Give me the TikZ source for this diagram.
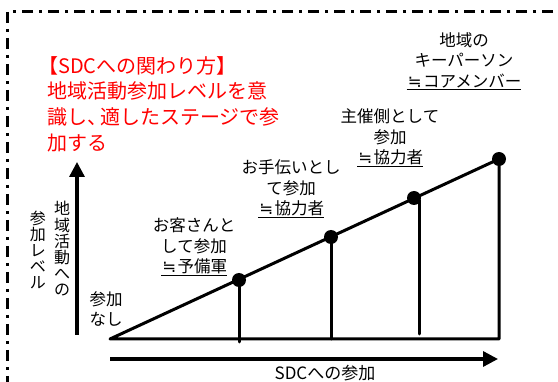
\documentclass[tikz,border=0pt]{standalone}
\usepackage{fontspec}
\setmainfont{Noto Sans CJK JP}
\newfontfamily\symfont{DejaVu Sans}
\newcommand{\approxeq}{\makebox[1em]{\symfont ≒}}
\usetikzlibrary{arrows.meta}
\begin{document}
\begin{tikzpicture}[x=1pt,y=-1pt,
  txt/.style={inner sep=0pt,align=center,font=\fontsize{16.5}{20.5}\selectfont},
  redtxt/.style={inner sep=0pt,align=left,text=red,font=\fontsize{20}{25.7}\selectfont},
  vtxt/.style={inner sep=0pt,align=center,font=\fontsize{16}{16.2}\selectfont},
  dot/.style={circle,fill=black,inner sep=0pt,minimum size=14pt},
  tri/.style={line width=3pt,line cap=round,line join=round},
  axis/.style={line width=3.3pt,-{Triangle[length=15pt,width=15pt]}},
  frame/.style={line width=3pt,dash pattern=on 11pt off 6pt on 3pt off 6pt}]
\useasboundingbox (0,0) rectangle (558,382);
\begin{scope}
  \clip (0,0) rectangle (558,382);
  \draw[frame] (7,12) rectangle (600,420);
\end{scope}

% red text
\node[redtxt,anchor=west] (red) at (47,104) {\hspace{-0.45em}【SDCへの関わり方】\\地域活動参加レベルを意\\識し、\hspace{-7pt}適したステージで参\\加する};

% graph
\coordinate (O) at (110,339);
\coordinate (R) at (499,339);
\coordinate (f1) at (239,342);
\coordinate (f2) at (331,339);
\coordinate (t3) at (419,200);
\coordinate (b3) at (419,334);
\draw[tri] (O) -- (499,159) -- (R) -- cycle;
\node[dot] (p1) at (239,280) {};
\node[dot] (p2) at (331,237) {};
\node[dot] (p3) at (414,198) {};
\node[dot] (p4) at (499,159) {};
\draw[tri] (p1.center) -- (f1);
\draw[tri] (p2.center) -- (f2);
\draw[tri] (t3) -- (b3);

% axes
\coordinate (xs) at (110,359);
\coordinate (xe) at (498,359);
\coordinate (ys) at (77,335);
\coordinate (ye) at (77,162);
\draw[axis] (xs) -- (xe);
\draw[axis] (ys) -- (ye);

% labels
\node[txt] (lA) at (464,61) {地域の\\キーパーソン\\\underline{\approxeq コアメンバー}};
\node[txt] (lB) at (390,138) {主催側として\\参加\\\underline{\approxeq 協力者}};
\node[txt] (lC) at (291,189) {お手伝いとし\\て参加\\\underline{\approxeq 協力者}};
\node[txt] (lD) at (194,247) {お客さんと\\して参加\\\underline{\approxeq 予備軍}};
\node[txt] (lE) at (106,309) {参加\\なし};
\node[vtxt] (v1) at (62,249) {地\\域\\活\\動\\へ\\の};
\node[vtxt] (v2) at (38,250) {参\\加\\レ\\ベ\\ル};
\node[inner sep=0pt,font=\fontsize{17}{20}\selectfont] (xl) at (325,373) {SDCへの参加};
\end{tikzpicture}
\end{document}
